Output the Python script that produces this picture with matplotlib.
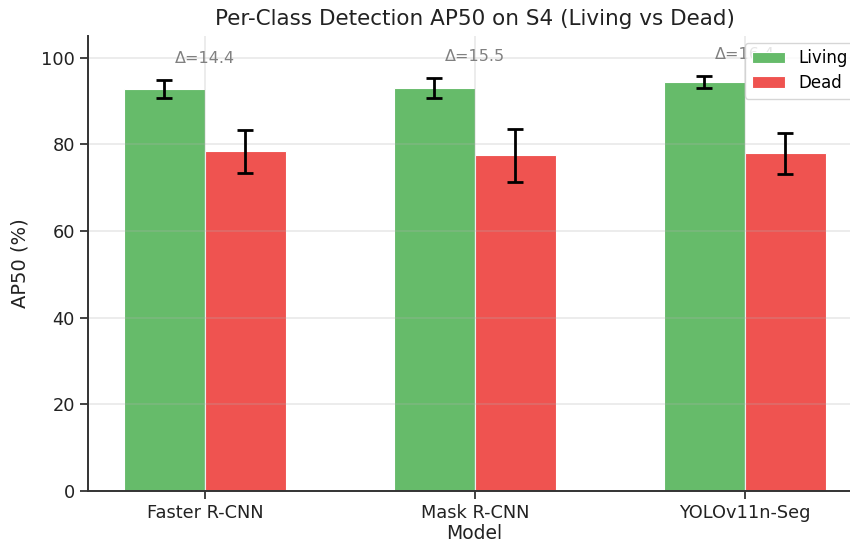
import matplotlib
matplotlib.use("Agg")
import matplotlib.pyplot as plt
import numpy as np

models = ["Faster R-CNN", "Mask R-CNN", "YOLOv11n-Seg"]
living_mean = [92.8, 93.0, 94.3]
living_std = [2.1, 2.2, 1.4]
dead_mean = [78.4, 77.5, 77.9]
dead_std = [5.0, 6.1, 4.65]

fig = plt.figure(figsize=(8.5, 5.45), dpi=100)
ax = fig.add_axes([88/850, 54/545, 773/850, 455/545])

x = np.arange(len(models))
w = 0.3
ax.bar(x - w/2, living_mean, w, yerr=living_std, color="#66BB6A",
       edgecolor="white", linewidth=0.8, capsize=6,
       error_kw=dict(elinewidth=2.0, capthick=2.0, ecolor="black"), label="Living")
ax.bar(x + w/2, dead_mean, w, yerr=dead_std, color="#EF5350",
       edgecolor="white", linewidth=0.8, capsize=6,
       error_kw=dict(elinewidth=2.0, capthick=2.0, ecolor="black"), label="Dead")
ax.grid(True, alpha=0.3, linewidth=1.1)

for i in range(len(models)):
    d = living_mean[i] - dead_mean[i]
    top = max(living_mean[i] + living_std[i], dead_mean[i] + dead_std[i])
    ax.text(x[i], top + 5, f"Δ={d:.1f}", ha="center", va="center",
            fontsize=11.5, color="gray")

ax.set_xticks(x)
ax.set_xticklabels(models, fontsize=12.8, color="#222222")
ax.tick_params(axis="both", labelsize=12.8, colors="#222222", length=6, width=1.2)
ax.set_ylim(0, 105)
ax.set_xlim(-0.433, 2.43)
ax.set_yticks([0, 20, 40, 60, 80, 100])
ax.set_xlabel("Model", fontsize=13.5, color="#222222", labelpad=1.5)
ax.set_ylabel("AP50 (%)", fontsize=14, color="#222222", labelpad=8)
ax.set_title("Per-Class Detection AP50 on S4 (Living vs Dead)", fontsize=15.5,
             color="#222222", pad=8)
for s in ["top", "right"]:
    ax.spines[s].set_visible(False)
for s in ["left", "bottom"]:
    ax.spines[s].set_color("#333333")
    ax.spines[s].set_linewidth(1.4)
ax.legend(loc="upper right", fontsize=12, borderaxespad=0.4, labelspacing=0.4)

fig.savefig("out.png", dpi=100)
